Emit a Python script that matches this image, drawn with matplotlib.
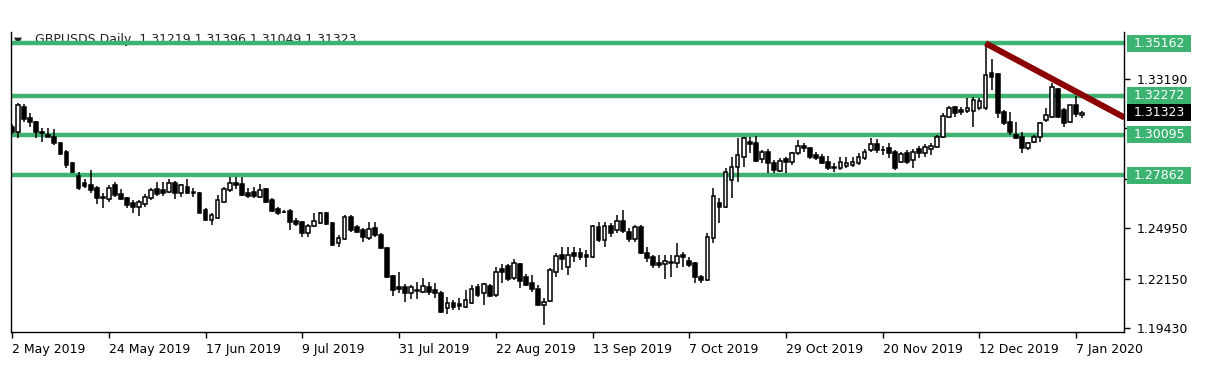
import matplotlib
matplotlib.use("Agg")
import matplotlib.pyplot as plt
from matplotlib.patches import Rectangle
from matplotlib.transforms import blended_transform_factory
import numpy as np

# ---------------- data ----------------
opens = [1.3055, 1.3028, 1.3166, 1.3102, 1.3080, 1.3028, 1.3009, 1.3000, 1.2963, 1.2917,
         1.2856, 1.2783, 1.2746, 1.2733, 1.2715, 1.2662, 1.2654, 1.2733, 1.2684, 1.2660,
         1.2635, 1.2613, 1.2628, 1.2660, 1.2711, 1.2706, 1.2696, 1.2746, 1.2691, 1.2720,
         1.2696, 1.2687, 1.2595, 1.2540, 1.2549, 1.2641, 1.2706, 1.2742, 1.2738, 1.2687,
         1.2696, 1.2669, 1.2711, 1.2650, 1.2599, 1.2585, 1.2591, 1.2536, 1.2530, 1.2470,
         1.2507, 1.2522, 1.2580, 1.2525, 1.2411, 1.2433, 1.2558, 1.2499, 1.2485, 1.2439,
         1.2494, 1.2457, 1.2383, 1.2230, 1.2171, 1.2171, 1.2138, 1.2150, 1.2144, 1.2171,
         1.2153, 1.2138, 1.2052, 1.2079, 1.2076, 1.2061, 1.2083, 1.2168, 1.2134, 1.2175,
         1.2125, 1.2267, 1.2286, 1.2218, 1.2297, 1.2227, 1.2190, 1.2157, 1.2070, 1.2094,
         1.2254, 1.2346, 1.2282, 1.2356, 1.2356, 1.2346, 1.2337, 1.2503, 1.2429, 1.2507,
         1.2485, 1.2536, 1.2475, 1.2433, 1.2503, 1.2359, 1.2334, 1.2304, 1.2297, 1.2309,
         1.2304, 1.2346, 1.2315, 1.2300, 1.2227, 1.2208, 1.2439, 1.2632, 1.2610, 1.2761,
         1.2831, 1.2890, 1.2972, 1.2967, 1.2875, 1.2917, 1.2856, 1.2812, 1.2875, 1.2862,
         1.2908, 1.2949, 1.2936, 1.2899, 1.2890, 1.2862, 1.2834, 1.2825, 1.2838, 1.2844,
         1.2856, 1.2881, 1.2927, 1.2960, 1.2929, 1.2936, 1.2917, 1.2862, 1.2908, 1.2871,
         1.2930, 1.2908, 1.2930, 1.2941, 1.2997, 1.3107, 1.3162, 1.3148, 1.3142, 1.3144,
         1.3157, 1.3157, 1.3350, 1.3346, 1.3138, 1.3083, 1.3009, 1.3000, 1.2936, 1.2972,
         1.3000, 1.3092, 1.3110, 1.3262, 1.3148, 1.3083, 1.3175, 1.31219]
highs = [1.3070, 1.3184, 1.3181, 1.3133, 1.3087, 1.3050, 1.3050, 1.3041, 1.2970, 1.2925,
         1.2862, 1.2807, 1.2764, 1.2816, 1.2727, 1.2691, 1.2733, 1.2751, 1.2709, 1.2669,
         1.2650, 1.2650, 1.2684, 1.2715, 1.2751, 1.2751, 1.2764, 1.2755, 1.2738, 1.2764,
         1.2715, 1.2694, 1.2604, 1.2578, 1.2678, 1.2724, 1.2776, 1.2776, 1.2776, 1.2715,
         1.2724, 1.2737, 1.2717, 1.2661, 1.2612, 1.2595, 1.2601, 1.2549, 1.2536, 1.2518,
         1.2577, 1.2586, 1.2586, 1.2530, 1.2457, 1.2567, 1.2567, 1.2512, 1.2494, 1.2530,
         1.2530, 1.2466, 1.2391, 1.2236, 1.2254, 1.2186, 1.2181, 1.2199, 1.2218, 1.2199,
         1.2190, 1.2147, 1.2116, 1.2098, 1.2107, 1.2153, 1.2181, 1.2186, 1.2193, 1.2186,
         1.2278, 1.2297, 1.2297, 1.2323, 1.2304, 1.2242, 1.2236, 1.2181, 1.2109, 1.2274,
         1.2356, 1.2392, 1.2392, 1.2392, 1.2383, 1.2374, 1.2512, 1.2530, 1.2530, 1.2522,
         1.2567, 1.2595, 1.2494, 1.2512, 1.2512, 1.2389, 1.2346, 1.2346, 1.2346, 1.2346,
         1.2414, 1.2365, 1.2337, 1.2309, 1.2236, 1.2466, 1.2715, 1.2660, 1.2825, 1.2890,
         1.2991, 1.3000, 1.3000, 1.3004, 1.2927, 1.2930, 1.2871, 1.2881, 1.2890, 1.2917,
         1.2982, 1.2964, 1.2945, 1.2915, 1.2905, 1.2894, 1.2855, 1.2890, 1.2890, 1.2886,
         1.2908, 1.2930, 1.2991, 1.2986, 1.2949, 1.2964, 1.2927, 1.2917, 1.2927, 1.2930,
         1.2949, 1.2960, 1.2964, 1.3009, 1.3129, 1.3170, 1.3170, 1.3166, 1.3212, 1.3221,
         1.3212, 1.35162, 1.3428, 1.3350, 1.3148, 1.3138, 1.3083, 1.3028, 1.2972, 1.3009,
         1.3083, 1.3157, 1.3295, 1.3267, 1.3157, 1.3175, 1.3225, 1.31396]
lows = [1.3015, 1.2991, 1.3083, 1.3055, 1.2991, 1.2969, 1.2996, 1.2954, 1.2900, 1.2826,
        1.2801, 1.2707, 1.2718, 1.2691, 1.2628, 1.2604, 1.2641, 1.2669, 1.2650, 1.2604,
        1.2580, 1.2562, 1.2613, 1.2650, 1.2673, 1.2673, 1.2689, 1.2654, 1.2669, 1.2684,
        1.2669, 1.2578, 1.2534, 1.2512, 1.2545, 1.2632, 1.2696, 1.2709, 1.2673, 1.2660,
        1.2660, 1.2660, 1.2635, 1.2584, 1.2567, 1.2577, 1.2484, 1.2507, 1.2444, 1.2444,
        1.2503, 1.2518, 1.2512, 1.2396, 1.2389, 1.2429, 1.2475, 1.2466, 1.2420, 1.2429,
        1.2444, 1.2380, 1.2219, 1.2120, 1.2138, 1.2088, 1.2101, 1.2101, 1.2134, 1.2125,
        1.2107, 1.2028, 1.2020, 1.2043, 1.2043, 1.2052, 1.2076, 1.2113, 1.2070, 1.2114,
        1.2116, 1.2193, 1.2204, 1.2208, 1.2162, 1.2175, 1.2144, 1.2065, 1.1960, 1.2087,
        1.2227, 1.2264, 1.2236, 1.2309, 1.2319, 1.2282, 1.2328, 1.2420, 1.2392, 1.2448,
        1.2466, 1.2466, 1.2420, 1.2420, 1.2352, 1.2309, 1.2273, 1.2273, 1.2212, 1.2227,
        1.2273, 1.2282, 1.2282, 1.2193, 1.2193, 1.2204, 1.2411, 1.2522, 1.2604, 1.2660,
        1.2751, 1.2834, 1.2908, 1.2862, 1.2853, 1.2798, 1.2798, 1.2807, 1.2801, 1.2844,
        1.2899, 1.2917, 1.2877, 1.2871, 1.2850, 1.2816, 1.2805, 1.2816, 1.2825, 1.2834,
        1.2844, 1.2871, 1.2917, 1.2908, 1.2899, 1.2881, 1.2816, 1.2853, 1.2850, 1.2825,
        1.2881, 1.2890, 1.2899, 1.2936, 1.2991, 1.3102, 1.3107, 1.3120, 1.3129, 1.3055,
        1.3148, 1.3148, 1.3258, 1.3102, 1.3064, 1.3009, 1.2986, 1.2908, 1.2927, 1.2963,
        1.2972, 1.3083, 1.3102, 1.3102, 1.3055, 1.3074, 1.3107, 1.31049]
closes = [1.3028, 1.3175, 1.3096, 1.3080, 1.3028, 1.3022, 1.2997, 1.2963, 1.2905, 1.2844,
          1.2807, 1.2718, 1.2727, 1.2706, 1.2660, 1.2668, 1.2715, 1.2678, 1.2654, 1.2623,
          1.2613, 1.2641, 1.2669, 1.2706, 1.2684, 1.2691, 1.2742, 1.2687, 1.2733, 1.2687,
          1.2687, 1.2580, 1.2540, 1.2567, 1.2650, 1.2711, 1.2746, 1.2733, 1.2678, 1.2673,
          1.2673, 1.2706, 1.2641, 1.2591, 1.2580, 1.2583, 1.2530, 1.2518, 1.2466, 1.2507,
          1.2536, 1.2580, 1.2518, 1.2402, 1.2439, 1.2555, 1.2485, 1.2475, 1.2444, 1.2488,
          1.2457, 1.2383, 1.2223, 1.2153, 1.2158, 1.2138, 1.2171, 1.2148, 1.2175, 1.2144,
          1.2138, 1.2033, 1.2079, 1.2061, 1.2065, 1.2098, 1.2157, 1.2125, 1.2186, 1.2120,
          1.2254, 1.2254, 1.2212, 1.2300, 1.2204, 1.2181, 1.2157, 1.2070, 1.2088, 1.2264,
          1.2341, 1.2323, 1.2346, 1.2341, 1.2337, 1.2334, 1.2507, 1.2429, 1.2507, 1.2470,
          1.2536, 1.2481, 1.2433, 1.2503, 1.2356, 1.2328, 1.2291, 1.2291, 1.2315, 1.2300,
          1.2341, 1.2334, 1.2291, 1.2223, 1.2208, 1.2447, 1.2672, 1.2610, 1.2807, 1.2834,
          1.2899, 1.2991, 1.2960, 1.2867, 1.2917, 1.2853, 1.2816, 1.2867, 1.2862, 1.2908,
          1.2949, 1.2936, 1.2886, 1.2881, 1.2856, 1.2825, 1.2825, 1.2862, 1.2856, 1.2862,
          1.2886, 1.2917, 1.2960, 1.2927, 1.2925, 1.2908, 1.2825, 1.2905, 1.2862, 1.2917,
          1.2908, 1.2945, 1.2949, 1.2999, 1.3114, 1.3157, 1.3133, 1.3138, 1.3157, 1.3203,
          1.3199, 1.3341, 1.3331, 1.3129, 1.3074, 1.3028, 1.2991, 1.2936, 1.2963, 1.3000,
          1.3074, 1.3120, 1.3276, 1.3110, 1.3074, 1.3175, 1.3125, 1.31323]

date_tick_index = [0, 16, 32, 48, 64, 80, 96, 112, 128, 144, 160, 176]
date_tick_labels = ["2 May 2019", "24 May 2019", "17 Jun 2019", "9 Jul 2019",
                    "31 Jul 2019", "22 Aug 2019", "13 Sep 2019", "7 Oct 2019",
                    "29 Oct 2019", "20 Nov 2019", "12 Dec 2019", "7 Jan 2020"]

price_ticks = [1.19430, 1.22150, 1.24950, 1.27670, 1.30470, 1.33190]
hidden_ticks = [1.27670, 1.30470]   # covered by the level labels in the original
levels = [1.35162, 1.32272, 1.30095, 1.27862]
trend_x = [161, 184]
trend_y = [1.35162, 1.31055]
last_price = 1.31323
title = "GBPUSDS Daily  1.31219 1.31396 1.31049 1.31323"

# ---------------- figure ----------------
W, H = 1205, 376
fig = plt.figure(figsize=(W / 100, H / 100), dpi=100)
fig.patch.set_facecolor("white")
ax_l, ax_r, ax_t, ax_b = 11, 1124, 32, 332
ax = fig.add_axes([ax_l / W, (H - ax_b) / H, (ax_r - ax_l) / W, (ax_b - ax_t) / H])

ymin, ymax = 1.19209, 1.35783
n = len(closes)
xs = np.arange(n)
ax.set_xlim(-0.17, 183.9)
ax.set_ylim(ymin, ymax)

green = "#3cb371"
for lv in levels:
    ax.axhline(lv, color=green, lw=3.2, zorder=2)

o = np.array(opens); h = np.array(highs); l = np.array(lows); c = np.array(closes)
ax.vlines(xs, l, h, color="black", lw=1.1, zorder=3)
up = c >= o
body_bot = np.minimum(o, c)
body_h = np.maximum(np.abs(c - o), 0.00025)
ax.bar(xs[up], body_h[up], bottom=body_bot[up], width=0.62, facecolor="white",
       edgecolor="black", linewidth=1.1, zorder=4)
ax.bar(xs[~up], body_h[~up], bottom=body_bot[~up], width=0.62, facecolor="black",
       edgecolor="black", linewidth=1.1, zorder=4)

# trend line
ax.plot(trend_x, trend_y, color="#8b0000", lw=4.4, solid_capstyle="butt", zorder=5)

# spines
ax.spines["top"].set_visible(False)
for s in ["left", "bottom", "right"]:
    ax.spines[s].set_color("black")
    ax.spines[s].set_linewidth(1.0)

fs = 9.0
# x ticks
ax.set_xticks(date_tick_index)
ax.set_xticklabels(date_tick_labels)
ax.tick_params(axis="x", direction="out", length=4, width=1, pad=4, labelsize=fs)
for lab in ax.get_xticklabels():
    lab.set_horizontalalignment("left")

# y ticks on the right
ax.yaxis.tick_right()
ax.set_yticks(price_ticks)
ax.set_yticklabels(["" if p in hidden_ticks else f"{p:.5f}" for p in price_ticks])
ax.tick_params(axis="y", direction="out", length=4, width=1, pad=5, labelsize=fs)

# title
ax.text(0.003, 0.988, "▼", transform=ax.transAxes, fontsize=7.5, va="top", ha="left",
        color="#202020", zorder=1)
ax.text(0.0215, 0.998, title, transform=ax.transAxes, fontsize=fs, va="top", ha="left",
        color="#202020", zorder=1)

# price labels on the right axis
tr = blended_transform_factory(ax.transAxes, ax.transData)
box_x0 = (1127 - ax_l) / (ax_r - ax_l)
box_w = 64 / (ax_r - ax_l)
px = (ymax - ymin) / (ax_b - ax_t)
box_h = 17 * px
for lv in levels:
    ax.add_patch(Rectangle((box_x0, lv - box_h / 2), box_w, box_h, transform=tr,
                           facecolor=green, edgecolor="none", clip_on=False, zorder=10))
    ax.text(box_x0 + box_w / 2, lv, f"{lv:.5f}", transform=tr, color="white",
            fontsize=fs, ha="center", va="center", zorder=11, clip_on=False)
ax.add_patch(Rectangle((box_x0, last_price - box_h / 2), box_w, box_h, transform=tr,
                       facecolor="black", edgecolor="none", clip_on=False, zorder=10))
ax.text(box_x0 + box_w / 2, last_price, f"{last_price:.5f}", transform=tr, color="white",
        fontsize=fs, ha="center", va="center", zorder=11, clip_on=False)

fig.savefig("out.png", dpi=100)
